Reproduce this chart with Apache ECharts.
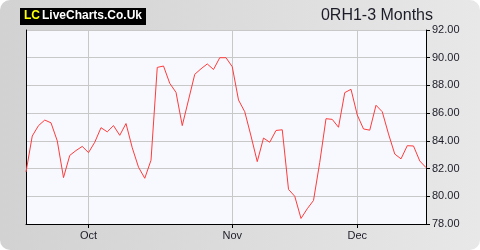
<!DOCTYPE html>
<html>
<head>
<meta charset="utf-8">
<script src="https://cdn.jsdelivr.net/npm/echarts@6/dist/echarts.min.js"></script>
<style>
  html, body { margin: 0; padding: 0; background: #ffffff; }
  #wrap { width: 480px; height: 250px; border-radius: 10px; overflow: hidden;
          background: linear-gradient(to right, #d2d2d2 0%, #dcdcdc 50%, #e8e8e8 100%); }
  #chart { width: 480px; height: 250px; }
</style>
</head>
<body>
<div id="wrap"><div id="chart"></div></div>
<script>
// ---- data ----
const monthNames = ['Sep', 'Oct', 'Nov', 'Dec'];
const monthPoints = [10, 23, 20, 12];
const prices = [
  81.75, 84.35, 85.10, 85.50, 85.30, 84.00, 81.35, 82.95, 83.30, 83.60,
  83.15, 83.90, 84.95, 84.65, 85.10, 84.40, 85.25, 83.50, 82.10, 81.30,
  82.60, 89.30, 89.40, 88.15, 87.50, 85.10, 86.95, 88.80, 89.20, 89.55,
  89.15, 90.00, 90.00, 89.35, 86.95, 86.10, 84.35, 82.50, 84.20, 83.90,
  84.75, 84.80, 80.50, 80.00, 78.40, 79.10, 79.70, 82.45, 85.60, 85.55,
  84.98, 87.48, 87.72, 85.87, 84.86, 84.77, 86.57, 86.10, 84.50, 83.05,
  82.70, 83.65, 83.63, 82.55, 82.07
];
const yMin = 78, yMax = 92, yStep = 2;
const titleText = '0RH1-3 Months';

// ---- build categories ----
const categories = [];
const monthStart = new Set();
monthNames.forEach((m, mi) => {
  for (let d = 0; d < monthPoints[mi]; d++) {
    if (d === 0 && mi > 0) monthStart.add(categories.length);
    categories.push(m + '-' + (d + 1));
  }
});
const showAt = (i) => monthStart.has(i);

const chart = echarts.init(document.getElementById('chart'), null, { renderer: 'canvas' });
const font = '"Liberation Sans", Arial, sans-serif';
chart.setOption({
  backgroundColor: 'transparent',
  animation: false,
  textStyle: { fontFamily: font },
  grid: { left: 26, right: 54, top: 30, bottom: 26, show: true,
          backgroundColor: '#f8f9fe', borderWidth: 0 },
  xAxis: {
    type: 'category', data: categories, boundaryGap: false,
    axisLine: { show: true, lineStyle: { color: '#000', width: 1 } },
    axisTick: { show: true, interval: (i) => showAt(i), length: 4, lineStyle: { color: '#000' } },
    axisLabel: { interval: (i) => showAt(i), formatter: (v) => v.split('-')[0],
                 color: '#1c1c28', fontSize: 11, margin: 6, fontFamily: font },
    splitLine: { show: true, interval: (i) => showAt(i), lineStyle: { color: '#c8c8c8', width: 1 } }
  },
  yAxis: [{
    type: 'value', position: 'right', min: yMin, max: yMax, interval: yStep,
    axisLine: { show: true, lineStyle: { color: '#000', width: 1 } },
    axisTick: { show: true, length: 4, lineStyle: { color: '#000' } },
    axisLabel: { formatter: (v) => v.toFixed(2), color: '#1c1c28', fontSize: 11, margin: 6, fontFamily: font },
    splitLine: { show: true, lineStyle: { color: '#c8c8c8', width: 1 } }
  }, {
    type: 'value', position: 'left', min: yMin, max: yMax, interval: yStep,
    axisLine: { show: true, lineStyle: { color: '#000', width: 1 } },
    axisTick: { show: false }, axisLabel: { show: false }, splitLine: { show: false }
  }],
  series: [{
    type: 'line', data: prices, yAxisIndex: 0, symbol: 'none', smooth: false,
    lineStyle: { color: '#ff3b3b', width: 1 }
  }],
  graphic: [
    { type: 'rect', left: 20, top: 8, shape: { width: 126, height: 17 }, style: { fill: '#000' } },
    { type: 'text', left: 24, top: 10, style: { text: 'LC', fill: '#ffff00', font: 'bold 12px "Liberation Sans", Arial, sans-serif' } },
    { type: 'text', left: 42, top: 10, style: { text: 'LiveCharts.Co.Uk', fill: '#ffffff', font: 'bold 12px "Liberation Sans", Arial, sans-serif' } },
    { type: 'text', right: 47, top: 8, style: { text: titleText, fill: '#1c1c28', font: '16px "Liberation Sans", Arial, sans-serif' } }
  ]
});
</script>
</body>
</html>
